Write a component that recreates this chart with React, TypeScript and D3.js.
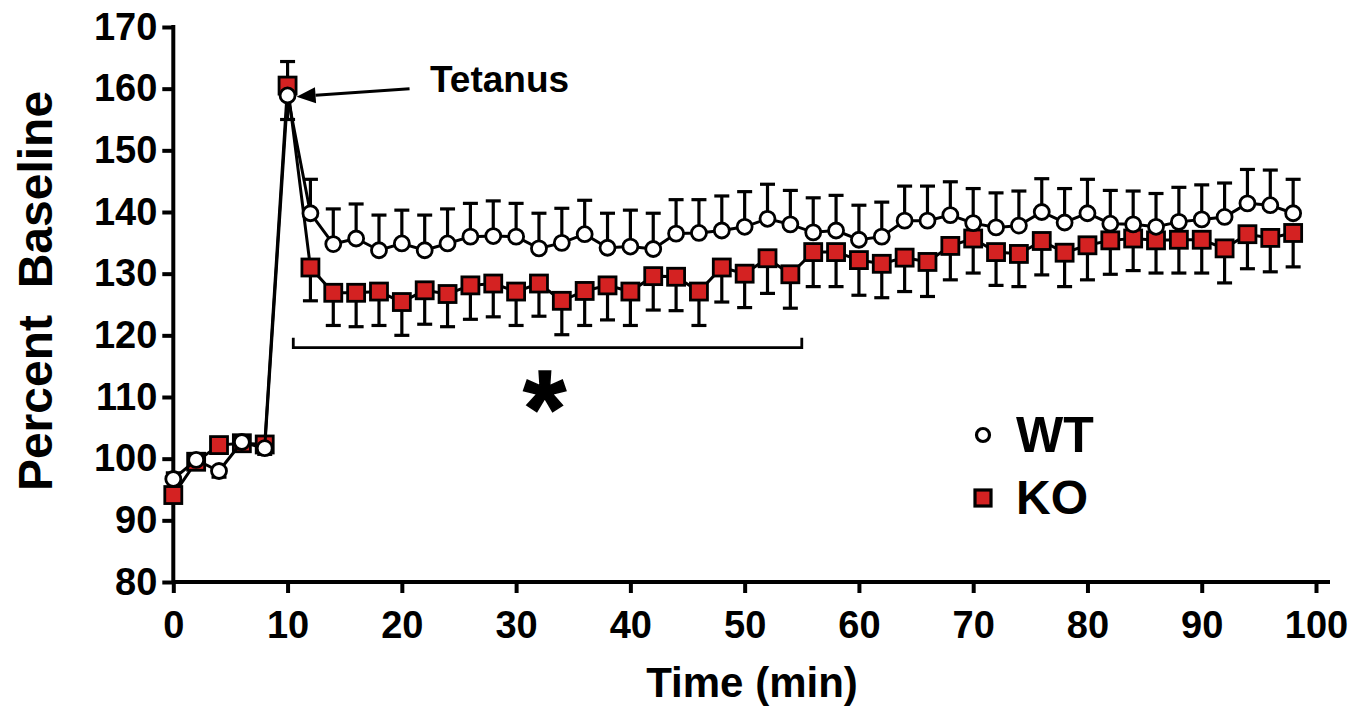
import React, { useEffect, useRef } from 'react';
import * as d3 from 'd3';

// time points (min)
const times = [0, 2, 4, 6, 8, 10, 12, 14, 16, 18, 20, 22, 24, 26, 28, 30, 32, 34, 36, 38, 40, 42, 44, 46, 48,
  50, 52, 54, 56, 58, 60, 62, 64, 66, 68, 70, 72, 74, 76, 78, 80, 82, 84, 86, 88, 90, 92, 94, 96, 98];

const wtMean = [96.7, 99.8, 98.0, 102.7, 101.7, 158.9, 139.8, 134.8, 135.7, 133.8, 134.9, 133.8, 134.9, 136.0, 136.1,
  136.0, 134.1, 135.0, 136.4, 134.2, 134.4, 134.0, 136.5, 136.6, 137.0, 137.6, 138.9, 138.0, 136.7, 137.0, 135.5,
  136.0, 138.6, 138.6, 139.5, 138.2, 137.5, 137.8, 140.0, 138.3, 139.8, 138.1, 138.0, 137.6, 138.4, 138.8, 139.2,
  141.4, 141.1, 139.8];
const wtErr = [1, 1, 1, 1, 1, 3.9, 5.5, 5.7, 5.6, 5.7, 5.4, 5.7, 5.6, 5.4, 5.7, 5.4, 5.7, 5.6, 5.5, 5.6, 5.9, 5.8,
  5.5, 5.4, 5.6, 5.7, 5.6, 5.5, 5.6, 5.7, 5.6, 5.6, 5.6, 5.6, 5.4, 5.6, 5.6, 5.6, 5.4, 5.5, 5.5, 5.4, 5.4, 5.4,
  5.6, 5.6, 5.5, 5.5, 5.7, 5.5];

const koMean = [94.1, 99.5, 102.2, 102.5, 102.3, 160.5, 131.0, 126.9, 126.9, 127.1, 125.4, 127.3, 126.7, 128.1, 128.4,
  127.1, 128.4, 125.6, 127.2, 128.1, 127.1, 129.6, 129.5, 127.1, 131.0, 130.0, 132.5, 129.9, 133.5, 133.5, 132.2,
  131.6, 132.6, 131.9, 134.5, 135.7, 133.5, 133.2, 135.3, 133.4, 134.6, 135.4, 135.7, 135.4, 135.5, 135.5, 134.1,
  136.4, 135.8, 136.6];
const koErr = [1, 1, 1, 1, 1, 3.9, 5.4, 5.3, 5.5, 5.5, 5.4, 5.5, 5.3, 5.5, 5.4, 5.5, 5.3, 5.5, 5.6, 5.6, 5.5, 5.5,
  5.5, 5.5, 5.6, 5.5, 5.7, 5.5, 5.6, 5.6, 5.7, 5.5, 5.5, 5.6, 5.5, 5.6, 5.4, 5.3, 5.5, 5.5, 5.6, 5.5, 5.2, 5.3,
  5.4, 5.4, 5.6, 5.6, 5.5, 5.5];

const xTicks = [0, 10, 20, 30, 40, 50, 60, 70, 80, 90, 100];
const yTicks = [80, 90, 100, 110, 120, 130, 140, 150, 160, 170];

// significance bracket (min) and level (%)
const bracketRange = [10.5, 55];
const bracketLevel = 118;

const RED = '#d42222';
const FONT = '"Liberation Sans", Arial, Helvetica, sans-serif';

function App() {
  const ref = useRef<SVGSVGElement>(null);

  useEffect(() => {
    const svg = d3.select(ref.current);
    svg.selectAll('*').remove();

    const x = d3.scaleLinear().domain([0, 100]).range([173.3, 1316]);
    const y = d3.scaleLinear().domain([80, 170]).range([582, 27]);

    const g = svg.append('g');

    // axes
    const xAxis = g.append('g').attr('transform', `translate(0, ${y(80)})`)
      .call(d3.axisBottom(x).tickValues(xTicks).tickSize(11).tickSizeOuter(0).tickPadding(18));
    xAxis.select('.domain').remove();
    g.append('line').attr('x1', x(0)).attr('x2', x(100) + 14).attr('y1', y(80)).attr('y2', y(80))
      .attr('stroke', '#000').attr('stroke-width', 4);

    const yAxis = g.append('g').attr('transform', `translate(${x(0)}, 0)`)
      .call(d3.axisLeft(y).tickValues(yTicks).tickSize(11).tickSizeOuter(0).tickPadding(5));
    yAxis.select('.domain').remove();
    g.append('line').attr('x1', x(0)).attr('x2', x(0)).attr('y1', y(170) - 2).attr('y2', y(80) + 2)
      .attr('stroke', '#000').attr('stroke-width', 4);

    [xAxis, yAxis].forEach(a => {
      a.selectAll('.tick line').attr('stroke', '#000').attr('stroke-width', 4);
      a.selectAll('.tick text').attr('fill', '#000').style('font-family', FONT)
        .style('font-weight', 'bold').style('font-size', '38px');
    });

    // axis titles
    g.append('text').attr('x', 752).attr('y', 697).attr('text-anchor', 'middle')
      .style('font-family', FONT).style('font-weight', 'bold').style('font-size', '42px')
      .text('Time (min)');
    g.append('text').attr('transform', 'translate(52, 291) rotate(-90)').attr('text-anchor', 'middle')
      .style('font-family', FONT).style('font-weight', 'bold').style('font-size', '48px')
      .style('white-space', 'pre')
      .text('Percent  Baseline');

    const wt = times.map((t, i) => ({ t, v: wtMean[i], e: wtErr[i], up: wtMean[i] >= koMean[i] }));
    const ko = times.map((t, i) => ({ t, v: koMean[i], e: koErr[i], up: koMean[i] > wtMean[i] }));

    const line = d3.line<{ t: number, v: number }>().x(d => x(d.t)).y(d => y(d.v));

    const drawErr = (data: typeof wt) => {
      const eg = g.append('g').attr('stroke', '#000').attr('stroke-width', 3.2);
      data.forEach(d => {
        const end = d.up ? d.v + d.e : d.v - d.e;
        eg.append('line').attr('x1', x(d.t)).attr('x2', x(d.t)).attr('y1', y(d.v)).attr('y2', y(end));
        eg.append('line').attr('x1', x(d.t) - 7.5).attr('x2', x(d.t) + 7.5).attr('y1', y(end)).attr('y2', y(end));
      });
    };

    // KO series
    drawErr(ko);
    g.append('path').datum(ko).attr('d', line).attr('fill', 'none').attr('stroke', '#000').attr('stroke-width', 3);
    g.append('g').selectAll('rect').data(ko).join('rect')
      .attr('x', d => x(d.t) - 8.5).attr('y', d => y(d.v) - 8.5).attr('width', 17).attr('height', 17)
      .attr('fill', RED).attr('stroke', '#000').attr('stroke-width', 2.8);

    // WT series
    drawErr(wt);
    g.append('path').datum(wt).attr('d', line).attr('fill', 'none').attr('stroke', '#000').attr('stroke-width', 3);
    g.append('g').selectAll('circle').data(wt).join('circle')
      .attr('cx', d => x(d.t)).attr('cy', d => y(d.v)).attr('r', 7.5)
      .attr('fill', '#fff').attr('stroke', '#000').attr('stroke-width', 2.8);

    // Tetanus annotation
    const tipX = x(10) + 9, tipY = y(158.7);
    const tailX = tipX + 113, tailY = tipY - 8;
    const ang = Math.atan2(tailY - tipY, tailX - tipX);
    const hl = 19, hw = 8;
    const bx = tipX + Math.cos(ang) * hl, by = tipY + Math.sin(ang) * hl;
    g.append('line').attr('x1', bx).attr('y1', by).attr('x2', tailX).attr('y2', tailY)
      .attr('stroke', '#000').attr('stroke-width', 3);
    g.append('path')
      .attr('d', `M${tipX},${tipY}L${bx - Math.sin(ang) * hw},${by + Math.cos(ang) * hw}L${bx + Math.sin(ang) * hw},${by - Math.cos(ang) * hw}Z`)
      .attr('fill', '#000');
    g.append('text').attr('x', 430).attr('y', 92)
      .style('font-family', FONT).style('font-weight', 'bold').style('font-size', '37px')
      .text('Tetanus');

    // significance bracket
    const by0 = y(bracketLevel), by1 = y(bracketLevel + 1.6);
    g.append('path')
      .attr('d', `M${x(bracketRange[0])},${by1}V${by0}H${x(bracketRange[1])}V${by1}`)
      .attr('fill', 'none').attr('stroke', '#000').attr('stroke-width', 2.8);
    g.append('text').attr('x', (x(bracketRange[0]) + x(bracketRange[1])) / 2 - 3).attr('y', 446)
      .attr('text-anchor', 'middle')
      .style('font-family', FONT).style('font-weight', 'bold').style('font-size', '110px')
      .attr('stroke', '#000').attr('stroke-width', 1.5)
      .text('*');

    // legend
    g.append('circle').attr('cx', 983).attr('cy', 435).attr('r', 6.5)
      .attr('fill', '#fff').attr('stroke', '#000').attr('stroke-width', 3.2);
    g.append('text').attr('x', 1016).attr('y', 452)
      .style('font-family', FONT).style('font-weight', 'bold').style('font-size', '50px').text('WT');
    g.append('rect').attr('x', 975).attr('y', 490).attr('width', 16).attr('height', 16)
      .attr('fill', RED).attr('stroke', '#000').attr('stroke-width', 3.2);
    g.append('text').attr('x', 1016).attr('y', 514)
      .style('font-family', FONT).style('font-weight', 'bold').style('font-size', '48px').text('KO');
  }, []);

  return (
    <svg ref={ref} width={1370} height={708}
      style={{ position: 'absolute', left: 0, top: 0, background: '#fff' }} />
  );
}

export default App;
